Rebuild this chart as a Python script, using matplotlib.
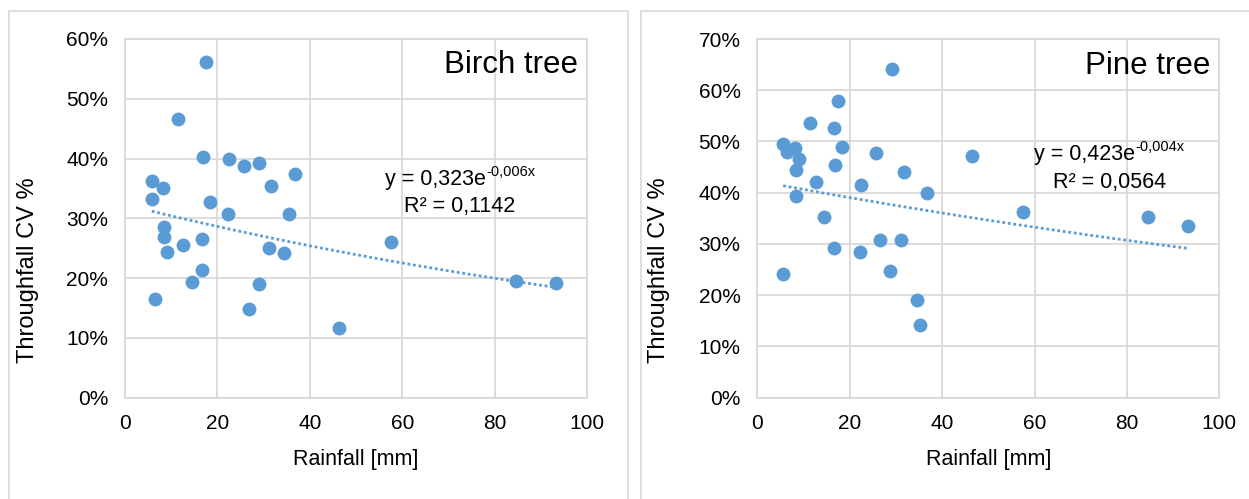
import numpy as np
import matplotlib
matplotlib.use("Agg")
import matplotlib.pyplot as plt
from matplotlib.ticker import PercentFormatter, MultipleLocator
from matplotlib.lines import Line2D

plt.rcParams['font.family'] = ['Liberation Sans', 'DejaVu Sans']

# rainfall [mm] and throughfall CV [%] per event
birch_rain = [17.5, 11.5, 16.8, 22.6, 25.8, 29.1, 36.8, 5.8, 8.2, 31.7,
              5.8, 18.5, 22.4, 35.4, 8.5, 8.5, 12.6, 16.6, 9.0, 16.6,
              14.6, 6.6, 31.1, 34.5, 28.9, 26.8, 57.5, 84.7, 93.3, 46.4]
birch_cv = [56.2, 46.6, 40.2, 40.0, 38.7, 39.3, 37.5, 36.2, 35.0, 35.4,
            33.2, 32.8, 30.8, 30.8, 28.6, 26.9, 25.5, 26.5, 24.4, 21.4,
            19.4, 16.5, 25.1, 24.2, 19.0, 14.8, 26.0, 19.6, 19.2, 11.7]

pine_rain = [29.1, 17.4, 11.4, 16.5, 5.6, 6.4, 8.1, 9.1, 18.3, 8.4,
             16.8, 25.6, 12.6, 22.4, 31.7, 8.3, 36.8, 14.5, 26.6, 31.1,
             16.5, 22.3, 5.6, 28.8, 34.6, 35.3, 46.4, 57.5, 84.6, 93.2]
pine_cv = [64.1, 57.9, 53.6, 52.7, 49.5, 48.0, 48.7, 46.5, 49.0, 44.4,
           45.4, 47.7, 42.0, 41.5, 44.0, 39.4, 39.9, 35.3, 30.8, 30.8,
           29.3, 28.5, 24.2, 24.7, 19.0, 14.1, 47.2, 36.3, 35.3, 33.5]

# exponential trend y = a * exp(b x)
birch_fit = (0.323, -0.006)
pine_fit = (0.423, -0.004)

BLUE = '#5B9BD5'
GRID = '#D9D9D9'
W, H = 1249, 499

fig = plt.figure(figsize=(W / 100, H / 100), dpi=100)

# panel frames
for x0, x1 in [(9, 628), (641, 1260)]:
    xs = [x0 / W, x0 / W, x1 / W, x1 / W]
    ys = [-0.02, 1 - 11 / H, 1 - 11 / H, -0.02]
    fig.add_artist(Line2D(xs, ys, color=GRID, lw=1.2, transform=fig.transFigure))


def panel(left, rain, cv, fit, ymax, name, eq, r2, eq_pos, r2_pos, name_y, ylab_x):
    ax = fig.add_axes([left / W, 1 - 397.7 / H, 462 / W, 358.7 / H])
    ax.scatter(rain, cv, s=100, color=BLUE, zorder=3, linewidths=0)
    xs = np.linspace(min(rain), max(rain), 200)
    a, b = fit
    ax.plot(xs, 100 * a * np.exp(b * xs), color=BLUE, lw=2.0,
            linestyle=(0, (1, 1.0)), zorder=2)
    ax.set_xlim(0, 100)
    ax.set_ylim(0, ymax)
    ax.xaxis.set_major_locator(MultipleLocator(20))
    ax.yaxis.set_major_locator(MultipleLocator(10))
    ax.yaxis.set_major_formatter(PercentFormatter(decimals=0))
    ax.grid(True, color=GRID, lw=1.3)
    ax.set_axisbelow(True)
    for sp in ax.spines.values():
        sp.set_color(GRID)
        sp.set_linewidth(1.3)
    ax.tick_params(length=0, labelsize=15, pad=12, labelcolor='#000000')
    ax.set_xlabel('Rainfall [mm]', fontsize=15.5, labelpad=11, color='#000000')
    ax.set_ylabel('Throughfall CV %', fontsize=17, color='#000000')
    ax.yaxis.set_label_coords(ylab_x, 0.355)
    ax.text(0.98, name_y, name, transform=ax.transAxes, ha='right', va='center',
            fontsize=22.5, color='#000000')
    main, sup = eq
    t = ax.text(eq_pos[0], eq_pos[1], main, transform=ax.transAxes, ha='left',
                va='center', fontsize=15.5, color='#000000')
    ax.annotate(sup, xy=(1.0, 0.55), xycoords=t, ha='left', va='bottom',
                fontsize=10.5, color='#000000')
    ax.text(r2_pos[0], r2_pos[1], r2, transform=ax.transAxes, ha='center',
            va='center', fontsize=15.5, color='#000000')
    return ax


panel(125, birch_rain, birch_cv, birch_fit, 60, 'Birch tree',
      ('y = 0,323e', '-0,006x'), 'R² = 0,1142', (0.563, 0.607), (0.725, 0.532), 0.9275, -0.186)
panel(757.3, pine_rain, pine_cv, pine_fit, 70, 'Pine tree',
      ('y = 0,423e', '-0,004x'), 'R² = 0,0564', (0.599, 0.677), (0.763, 0.601), 0.925, -0.189)

fig.savefig('out.png', dpi=100)
